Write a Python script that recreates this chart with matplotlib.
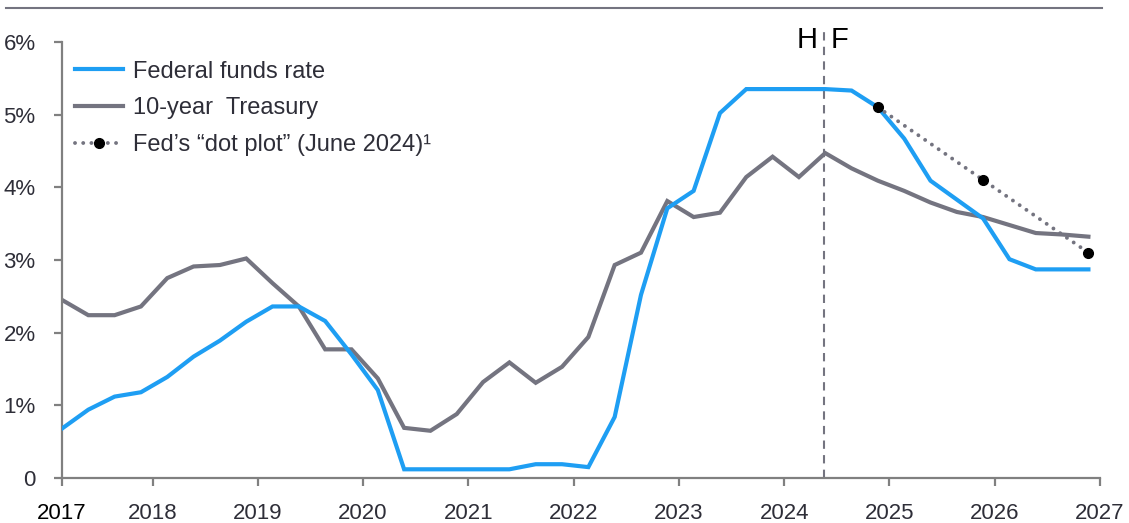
import numpy as np
import matplotlib
matplotlib.use("Agg")
import matplotlib.pyplot as plt
from matplotlib.lines import Line2D

# quarterly data, first point in Q1 2017
first_q = 2017.14
fed_funds = [0.68, 0.94, 1.12, 1.18, 1.39, 1.67, 1.89, 2.15, 2.36, 2.36,
             2.16, 1.70, 1.21, 0.12, 0.12, 0.12, 0.12, 0.12, 0.19, 0.19,
             0.15, 0.84, 2.52, 3.71, 3.95, 5.02, 5.35, 5.35, 5.35, 5.35,
             5.33, 5.10, 4.67, 4.09, 3.83, 3.57, 3.01, 2.87, 2.87, 2.87]
treasury_10y = [2.45, 2.24, 2.24, 2.36, 2.75, 2.91, 2.93, 3.02, 2.68, 2.36,
                1.77, 1.77, 1.37, 0.69, 0.65, 0.88, 1.32, 1.59, 1.31, 1.53,
                1.94, 2.93, 3.10, 3.81, 3.59, 3.65, 4.14, 4.42, 4.14, 4.47,
                4.26, 4.09, 3.95, 3.79, 3.66, 3.59, 3.48, 3.37, 3.35, 3.32]
dot_years = [2024.89, 2025.89, 2026.89]
dot_values = [5.1, 4.1, 3.1]
history_end = 2024.38

year_ticks = [2017.14, 2018, 2019, 2020, 2021, 2022, 2023, 2024, 2025, 2026, 2027]
year_labels = ['2017', '2018', '2019', '2020', '2021', '2022', '2023', '2024', '2025', '2026', '2027']
y_ticks = [0, 1, 2, 3, 4, 5, 6]
y_labels = ['0', '1%', '2%', '3%', '4%', '5%', '6%']

blue = '#1e9ef3'
grey = '#747480'
axis_grey = '#808080'
text_col = '#2e2e38'

plt.rcParams['font.family'] = ['Liberation Sans', 'DejaVu Sans']

x = first_q + 0.25 * np.arange(len(fed_funds))

fig = plt.figure(figsize=(11.29, 5.23), dpi=100)
ax = fig.add_axes([0.0549, 0.086, 0.9194, 0.834])

dotted = (0, (0.01, 2.1))

ax.plot(x, fed_funds, color=blue, lw=3, solid_joinstyle='miter', zorder=3)
ax.plot(x, treasury_10y, color=grey, lw=3, solid_joinstyle='miter', zorder=2)
ax.plot(dot_years, dot_values, color=grey, lw=2.8, linestyle=dotted,
        dash_capstyle='round', zorder=4)
ax.plot(dot_years, dot_values, 'o', color='black', ms=7, zorder=5)

ax.plot([history_end, history_end], [0, 6.15], color=grey, lw=1.5,
        linestyle=(0, (4, 3)), clip_on=False, zorder=1)
ax.text(history_end - 0.06, 6.03, 'H', ha='right', va='center', fontsize=21, color='black')
ax.text(history_end + 0.06, 6.03, 'F', ha='left', va='center', fontsize=21, color='black')

ax.set_xlim(first_q, 2027)
ax.set_ylim(0, 6)
for s in ['top', 'right']:
    ax.spines[s].set_visible(False)
for s in ['left', 'bottom']:
    ax.spines[s].set_color(axis_grey)
    ax.spines[s].set_linewidth(1.6)

ax.set_xticks(year_ticks)
ax.set_xticklabels(year_labels)
ax.set_yticks(y_ticks)
ax.set_yticklabels(y_labels)
ax.tick_params(axis='x', direction='out', length=6, width=1.6, color=axis_grey,
               labelsize=16, labelcolor=text_col, pad=12)
ax.tick_params(axis='y', direction='out', length=6, width=1.6, color=axis_grey,
               labelsize=16, labelcolor=text_col, pad=13)
ax.get_xticklabels()[0].set_color('black')
ax.get_xticklines()[0].set_color('#333333')

handles = [Line2D([], [], color=blue, lw=3),
           Line2D([], [], color=grey, lw=3),
           Line2D([], [], color=grey, lw=2.8, linestyle=dotted, dash_capstyle='round',
                  marker='o', markersize=7, markerfacecolor='black', markeredgecolor='black')]
labels = ['Federal funds rate', '10-year  Treasury', 'Fed\u2019s \u201cdot plot\u201d (June 2024)\u00b9']
leg = ax.legend(handles, labels, loc='upper left', bbox_to_anchor=(-0.003, 0.995),
                frameon=False, fontsize=17, handlelength=2.0, handletextpad=0.45,
                labelspacing=0.62, numpoints=1, borderaxespad=0.3)
for t in leg.get_texts():
    t.set_color(text_col)

fig.add_artist(Line2D([0.005, 0.976], [0.985, 0.985], transform=fig.transFigure,
                      color=grey, lw=1.5))

fig.savefig('out.png', dpi=100)
